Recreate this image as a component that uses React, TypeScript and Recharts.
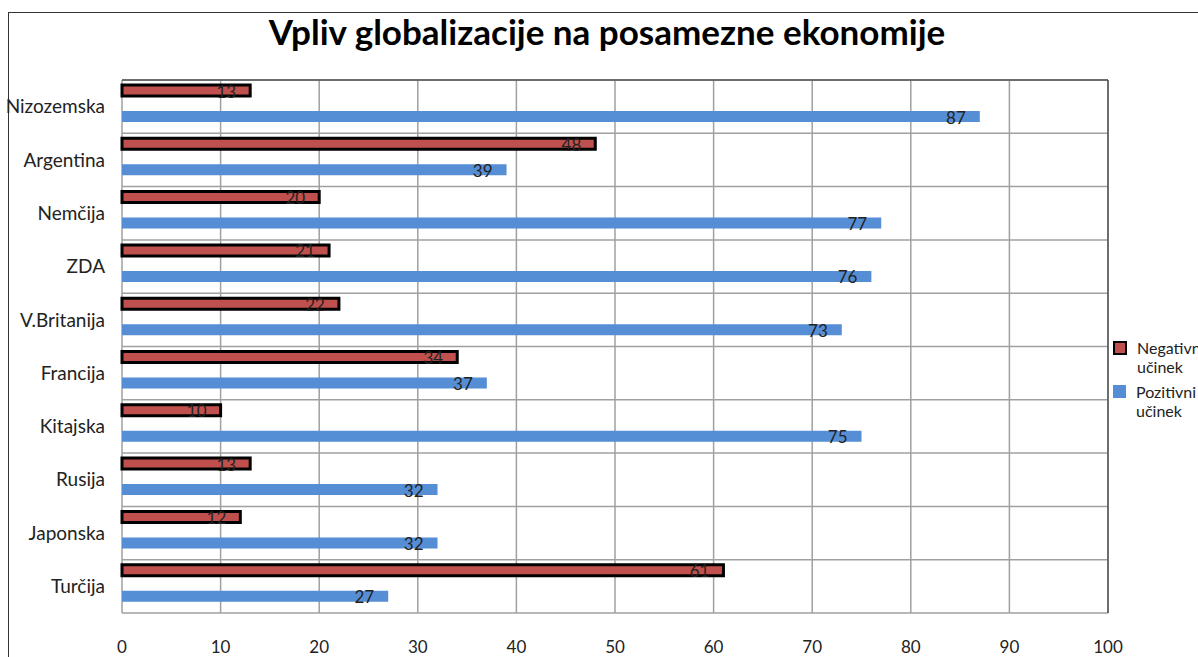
import React from "react";
import {
  BarChart,
  Bar,
  XAxis,
  YAxis,
  CartesianGrid,
  Legend,
  LabelList,
  Rectangle,
} from "recharts";

const countries = [
  "Nizozemska",
  "Argentina",
  "Nemčija",
  "ZDA",
  "V.Britanija",
  "Francija",
  "Kitajska",
  "Rusija",
  "Japonska",
  "Turčija",
];
const negativni = [13, 48, 20, 21, 22, 34, 10, 13, 12, 61];
const pozitivni = [87, 39, 77, 76, 73, 37, 75, 32, 32, 27];
const xTicks = [0, 10, 20, 30, 40, 50, 60, 70, 80, 90, 100];

const RED = "#C0504D";
const BLUE = "#558ED5";
const FONT = "Lato, 'Open Sans', sans-serif";
const LIFT = -3; // Excel sits the bar pair a bit above the band centre

const data = countries.map((name, i) => ({
  name,
  neg: negativni[i],
  poz: pozitivni[i],
}));

// grid lines on category boundaries (Excel style), not band centres
const bandLines = ({ offset }: any) => {
  const step = offset.height / countries.length;
  return countries.map((_, i) => offset.top + i * step).concat(offset.top + offset.height);
};

const topLine = ({ offset }: any) => [offset.top];
const rightLine = ({ offset }: any) => [offset.left + offset.width];

const liftedBar = (props: any) => <Rectangle {...props} y={props.y + LIFT} />;

const renderLegend = (props: any) => {
  const items = props.payload || [];
  return (
    <div style={{ fontFamily: FONT, fontSize: 16, color: "#222", lineHeight: "19px" }}>
      {items.map((it: any, i: number) => (
        <div key={i} style={{ display: "flex", alignItems: "flex-start", marginBottom: 6 }}>
          <span
            style={{
              display: "inline-block",
              width: i === 0 ? 10 : 13,
              height: i === 0 ? 10 : 13,
              background: it.color,
              border: i === 0 ? "2px solid #000" : "none",
              marginTop: 3,
              marginRight: 10,
              flexShrink: 0,
            }}
          />
          <span style={{ width: 60 }}>{it.value}</span>
        </div>
      ))}
    </div>
  );
};

export default function App() {
  return (
    <div
      style={{
        position: "fixed",
        left: 0,
        top: 0,
        width: 1198,
        height: 657,
        overflow: "hidden",
        background: "#fff",
      }}
    >
      <div
        style={{
          position: "absolute",
          left: 8,
          top: 12,
          width: 1400,
          height: 900,
          borderLeft: "1.5px solid #333",
          borderTop: "1.5px solid #333",
        }}
      />
      <div
        style={{
          position: "absolute",
          left: 8,
          top: 10,
          width: 1198,
          textAlign: "center",
          fontFamily: FONT,
          fontWeight: 700,
          fontSize: 35,
          color: "#000",
        }}
      >
        Vpliv globalizacije na posamezne ekonomije
      </div>
      <div style={{ position: "absolute", left: 0, top: 0 }}>
        <BarChart
          width={1198}
          height={657}
          data={data}
          layout="vertical"
          margin={{ top: 80, right: 90, bottom: 14, left: 0 }}
          barSize={11}
          barGap={15}
        >
          <CartesianGrid
            stroke="#A0A0A0"
            strokeWidth={1.5}
            horizontalCoordinatesGenerator={bandLines}
          />
          <CartesianGrid
            stroke="#555"
            strokeWidth={1.5}
            horizontalCoordinatesGenerator={topLine}
            verticalCoordinatesGenerator={rightLine}
          />
          <XAxis
            type="number"
            domain={[0, 100]}
            ticks={xTicks}
            axisLine={false}
            tickLine={false}
            height={30}
            tickMargin={22}
            tick={{ fill: "#222", fontSize: 17, fontFamily: FONT }}
          />
          <YAxis
            type="category"
            dataKey="name"
            width={122}
            axisLine={false}
            tickLine={false}
            tickMargin={11}
            tick={{ fill: "#222", fontSize: 19, fontFamily: FONT }}
          />
          <Legend
            layout="vertical"
            align="center"
            verticalAlign="middle"
            wrapperStyle={{ left: 1113, top: 338, width: 100 }}
            content={renderLegend}
          />
          <Bar
            dataKey="neg"
            name="Negativni učinek"
            fill={RED}
            stroke="#000"
            strokeWidth={3}
            shape={liftedBar}
            isAnimationActive={false}
          >
            <LabelList
              dataKey="neg"
              position="insideRight"
              offset={14}
              dy={LIFT + 1}
              fill="#222"
              fontSize={17}
              fontFamily={FONT}
            />
          </Bar>
          <Bar
            dataKey="poz"
            name="Pozitivni učinek"
            fill={BLUE}
            shape={liftedBar}
            isAnimationActive={false}
          >
            <LabelList
              dataKey="poz"
              position="insideRight"
              offset={14}
              dy={LIFT + 1}
              fill="#222"
              fontSize={17}
              fontFamily={FONT}
            />
          </Bar>
        </BarChart>
      </div>
    </div>
  );
}
